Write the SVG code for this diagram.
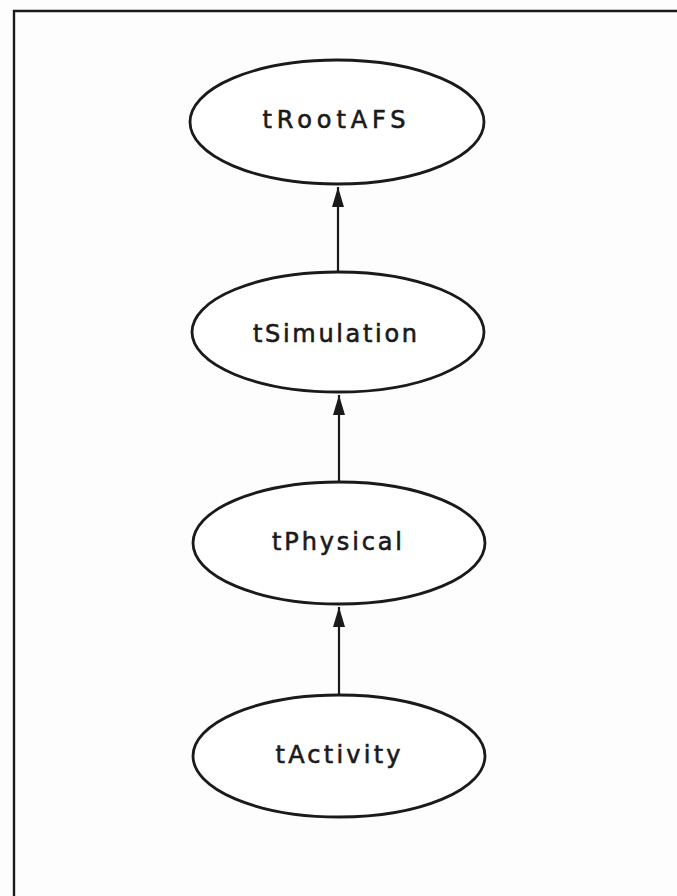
<svg xmlns="http://www.w3.org/2000/svg" width="677" height="896" viewBox="0 0 677 896">
  <style>
    .node ellipse { fill: #ffffff; stroke: #1a1a1a; stroke-width: 2.8; }
    .node text { font-family: "DejaVu Sans", "Liberation Sans", sans-serif; font-size: 24px; fill: #1a1a1a; stroke: #1a1a1a; stroke-width: 0.6; text-anchor: middle; }
    .edge { stroke: #1a1a1a; stroke-width: 2.2; fill: none; marker-end: url(#arrow); }
    .frame { stroke: #1a1a1a; stroke-width: 2.4; fill: none; }
  </style>
  <defs>
    <marker id="arrow" viewBox="0 0 20 12" refX="20" refY="6" markerWidth="20" markerHeight="17" markerUnits="userSpaceOnUse" orient="auto">
      <path d="M0,0 L20,6 L0,12 Z" fill="#1a1a1a"/>
    </marker>
  </defs>
  <rect width="677" height="896" fill="#fdfdfd"/>

  <!-- page frame: top and left edges -->
  <path class="frame" d="M14,896 L14,11 L677,11"/>

  <!-- inheritance links, child to parent -->
  <g id="connectors">
    <path class="edge" d="M338,272 L338,187"/>
    <path class="edge" d="M339,482 L339,395"/>
    <path class="edge" d="M339,694 L339,607"/>
  </g>

  <g id="tRootAFS" class="node">
    <ellipse cx="337" cy="122" rx="147" ry="62"/>
    <text x="334" y="128" textLength="143" lengthAdjust="spacing">tRootAFS</text>
  </g>

  <g id="tSimulation" class="node">
    <ellipse cx="338" cy="332" rx="146" ry="60"/>
    <text x="335" y="342" textLength="164" lengthAdjust="spacing">tSimulation</text>
  </g>

  <g id="tPhysical" class="node">
    <ellipse cx="339" cy="543" rx="146" ry="61"/>
    <text x="337" y="550" textLength="130" lengthAdjust="spacing">tPhysical</text>
  </g>

  <g id="tActivity" class="node">
    <ellipse cx="339" cy="756" rx="146" ry="61"/>
    <text x="338" y="763" textLength="125" lengthAdjust="spacing">tActivity</text>
  </g>
</svg>
